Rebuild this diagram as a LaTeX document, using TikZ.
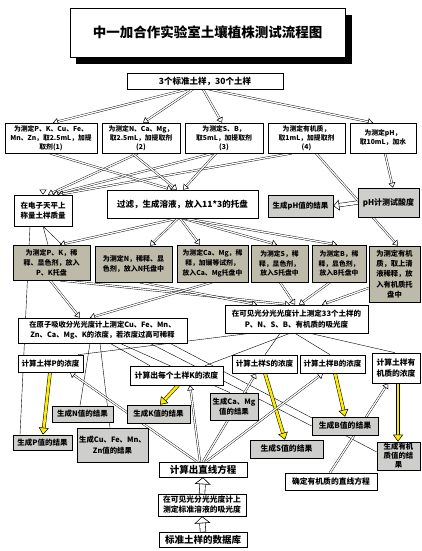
\documentclass[tikz,border=0pt]{standalone}
\usepackage{fontspec}
\setmainfont{Noto Sans CJK SC}
\usetikzlibrary{arrows.meta,backgrounds}
\definecolor{tanbox}{RGB}{190,186,170}
\definecolor{graybox}{RGB}{206,206,204}
\definecolor{yel}{RGB}{250,235,0}
\newcommand\fz[2]{\fontsize{#1pt}{#2pt}\selectfont\bfseries}
\newcommand\bx[7]{%
  \pgfmathsetmacro\bw{#4-#2}\pgfmathsetmacro\bh{#5-#3}%
  \node[#6, minimum width=\bw pt, minimum height=\bh pt] (#1) at ({(#2+#4)/2},{(#3+#5)/2}) {#7};}
\tikzset{
  box/.style={draw, line width=0.6pt, fill=white, inner sep=0.5pt, align=center},
  gbox/.style={box, fill=tanbox},
  rbox/.style={box, fill=graybox},
  hol/.style={double, double distance=1.3pt, line width=0.4pt,
    -{Triangle[open, length=5pt, width=7pt, line width=0.5pt]}},
  hol2/.style={double, double distance=3pt, line width=0.5pt,
    -{Triangle[open, length=6pt, width=11pt, line width=0.5pt]}},
  thinl/.style={line width=0.4pt},
  yarr/.style={draw=black, double=yel, double distance=2.6pt, line width=0.5pt,
    -{Triangle[length=7pt, width=10pt, fill=yel, line width=0.5pt]}},
  fat/.style={double, double distance=5pt, line width=0.6pt,
    -{Triangle[open, length=7pt, width=16pt, line width=0.6pt]}},
}
\begin{document}
\begin{tikzpicture}[x=1pt,y=-1pt]
\useasboundingbox (0,0) rectangle (421,551);
% title
\fill[black] (76,15) rectangle (352,64);
\bx{title}{70}{8}{345}{57}{box, font=\fz{13.5}{16}}{中一加合作实验室土壤植株测试流程图}
\bx{s}{127}{73}{283}{89}{box, font=\fz{8.5}{10}}{3个标准土样，30个土样}
% row 1
\bx{r1a}{5}{123}{97}{153}{box, font=\fz{6.8}{9}}{为测定P、K、Cu、Fe、\\Mn、Zn，取2.5mL，加提\\取剂(1)}
\bx{r1b}{102}{123}{180}{153}{box, font=\fz{6.8}{9}}{为测定N、Ca、Mg，\\取2.5mL，加提取剂\\(2)}
\bx{r1c}{185}{123}{263}{153}{box, font=\fz{6.8}{9}}{为测定S、B，\\取5mL，加提取剂\\(3)}
\bx{r1d}{268}{123}{345}{153}{box, font=\fz{6.8}{9}}{为测定有机质，\\取1mL，加提取剂\\(4)}
\bx{r1e}{350}{123}{416}{153}{box, font=\fz{6.8}{9}}{为测定pH，\\取10mL，加水}
% row 2
\bx{tp}{14}{195}{72}{226}{box, font=\fz{7.5}{10}}{在电子天平上\\称量土样质量}
\bx{gl}{107}{190}{258}{218}{box, font=\fz{8.5}{10}}{过滤，生成溶液，放入11*3的托盘}
\bx{pHres}{268}{195}{333}{217}{rbox, font=\fz{7.5}{9}}{生成pH值的结果}
\bx{pH}{358}{188}{419}{217}{rbox, font=\fz{8}{9}}{pH计测试酸度}
% row 3
\bx{r3a}{13}{245}{90}{280}{gbox, font=\fz{7}{9.8}}{为测定P、K，稀\\释、显色剂，放入\\P、K托盘}
\bx{r3b}{95}{246}{172}{282}{gbox, font=\fz{7}{9.8}}{为测定N，稀释、显\\色剂，放入N托盘中}
\bx{r3c}{177}{245}{248}{282}{gbox, font=\fz{6.8}{9.8}}{为测定Ca、Mg，稀\\释，加镧等试剂，\\放入Ca、Mg托盘中}
\bx{r3d}{251}{245}{308}{282}{gbox, font=\fz{6.8}{9.8}}{为测定S，稀\\释，显色剂，\\放入S托盘中}
\bx{r3e}{312}{245}{366}{282}{gbox, font=\fz{6.8}{9.8}}{为测定B，稀\\释，显色剂，\\放入B托盘中}
\bx{r3f}{369}{246}{420}{302}{gbox, font=\fz{7.3}{10.3}}{为测定有机\\质，取上清\\液稀释，放\\入有机质托\\盘中}
% row 4
\bx{aa}{18}{318}{187}{343}{box, font=\fz{7.3}{10}}{在原子吸收分光光度计上测定Cu、Fe、Mn、\\Zn、Ca、Mg、K的浓度，若浓度过高可稀释}
\bx{vis}{225}{305}{368}{333}{box, font=\fz{7.5}{10.5}}{在可见光分光光度计上测定33个土样的\\P、N、S、B、有机质的吸光度}
% row 5
\bx{Pc}{18}{355}{83}{372}{box, font=\fz{7.5}{9}}{计算土样P的浓度}
\bx{Kc}{130}{366}{223}{385}{box, font=\fz{7.8}{9}}{计算出每个土样K的浓度}
\bx{Sc}{232}{355}{297}{373}{box, font=\fz{7.5}{9}}{计算土样S的浓度}
\bx{Bc}{300}{355}{365}{373}{box, font=\fz{7.5}{9}}{计算土样B的浓度}
\bx{Oc}{372}{353}{420}{383}{box, font=\fz{7.8}{10.5}}{计算土样有\\机质的浓度}
% results
\bx{Nres}{52}{406}{113}{422}{rbox, font=\fz{7.5}{9}}{生成N值的结果}
\bx{Kres}{127}{405}{190}{423}{rbox, font=\fz{7.5}{9}}{生成K值的结果}
\bx{Pres}{13}{435}{72}{450}{rbox, font=\fz{7.5}{9}}{生成P值的结果}
\bx{CFres}{77}{428}{148}{462}{rbox, font=\fz{7.4}{10.5}}{生成Cu、Fe、Mn、\\Zn值的结果}
\bx{CMres}{210}{393}{258}{420}{rbox, font=\fz{7.4}{10.5}}{生成Ca、Mg\\值的结果}
\bx{Sres}{250}{440}{323}{458}{rbox, font=\fz{7.8}{9}}{生成S值的结果}
\bx{Bres}{312}{417}{378}{435}{rbox, font=\fz{7.8}{9}}{生成B值的结果}
\bx{Ores}{377}{442}{420}{470}{rbox, font=\fz{7.4}{9}}{生成有机\\质值的结\\果}
\bx{oeq}{285}{473}{377}{490}{box, font=\fz{7.8}{9}}{确定有机质的直线方程}
% bottom chain
\bx{eq}{159}{462}{247}{477}{box, font=\fz{9.5}{11}}{计算出直线方程}
\bx{meas}{158}{494}{246}{516}{box, font=\fz{7.8}{10}}{在可见光分光光度计上\\测定标准溶液的吸光度}
\bx{std}{159}{532}{247}{547}{box, font=\fz{9.5}{11}}{标准土样的数据库}
\begin{pgfonlayer}{background}
% top -> row1
\draw[hol] (187,0|-s.south) -- (53,0|-r1a.north);
\draw[hol] (193,0|-s.south) -- (143,0|-r1b.north);
\draw[hol] (203,0|-s.south) -- (222,0|-r1c.north);
\draw[hol] (209,0|-s.south) -- (373,0|-r1e.north);
% row1 -> balance
\draw[hol] (43,0|-r1a.south) -- (43,0|-tp.north);
\draw[hol] (138,0|-r1b.south) -- (48,0|-tp.north);
\draw[hol] (213,0|-r1c.south) -- (53,0|-tp.north);
\draw[hol] (292,0|-r1d.south) -- (58,0|-tp.north);
% row1 -> filter
\draw[hol] (50,0|-r1a.south) -- (172,0|-gl.north);
\draw[hol] (132,0|-r1b.south) -- (177,0|-gl.north);
\draw[hol] (216,0|-r1c.south) -- (183,0|-gl.north);
\draw[hol] (316,0|-r1d.south) -- (398,0|-r3f.north);
% pH
\draw[hol] (385,0|-r1e.south) -- (393,0|-pH.north);
\draw[hol2] (pH.west) -- (pHres.east);
% filter -> row3
\draw[hol] (178,0|-gl.south) -- (60,0|-r3a.north);
\draw[hol] (178,0|-gl.south) -- (150,0|-r3b.north);
\draw[hol] (180,0|-gl.south) -- (200,0|-r3c.north);
\draw[hol] (182,0|-gl.south) -- (277,0|-r3d.north);
\draw[hol] (184,0|-gl.south) -- (337,0|-r3e.north);
% balance -> row3
\draw[thinl] (43,0|-tp.south) -- (48,0|-r3a.north);
\draw[thinl] (43,0|-tp.south) -- (62,0|-r3a.north);
% row3 -> row4
\draw[hol] (60,0|-r3a.south) -- (290,0|-vis.north);
\draw[hol] (50,0|-r3a.south) -- (80,0|-aa.north);
\draw[hol] (140,0|-r3b.south) -- (257,0|-vis.north);
\draw[hol] (212,0|-r3c.south) -- (90,0|-aa.north);
\draw[hol] (280,0|-r3d.south) -- (295,0|-vis.north);
\draw[hol] (330,0|-r3e.south) -- (299,0|-vis.north);
\draw[hol] ([yshift=-14pt]r3f.west) -- (322,0|-vis.north);
% row4 -> row5 thin lines
\draw[thinl] (30,0|-tp.south) -- (20,0|-Pres.north);
\draw[thinl] (90,0|-aa.south) -- (80,0|-Nres.north);
\draw[thinl] (100,0|-aa.south) -- (110,0|-CFres.north);
\draw[thinl] (110,0|-aa.south) -- (150,0|-Kc.north);
\draw[thinl] (120,0|-aa.south) -- (230,0|-CMres.north);
\draw[thinl] (150,0|-aa.south) -- (Bres.west);
\draw[thinl] (170,0|-aa.south) -- ([yshift=4pt]Ores.west);
\draw[thinl] (250,0|-vis.south) -- (78,0|-Pc.north);
\draw[thinl] (290,0|-vis.south) -- (205,0|-Kc.north);
\draw[thinl] (280,0|-vis.south) -- (265,0|-Sc.north);
\draw[thinl] (295,0|-vis.south) -- (330,0|-Bc.north);
\draw[thinl] (310,0|-vis.south) -- (395,0|-Oc.north);
% yellow
\draw[yarr] (50,0|-Pc.south) -- (43,0|-Pres.north);
\draw[yarr] (178,0|-Kc.south) -- (160,0|-Kres.north);
\draw[yarr] (265,0|-Sc.south) -- (285,0|-Sres.north);
\draw[yarr] (335,0|-Bc.south) -- (345,0|-Bres.north);
\draw[yarr] (398,0|-Oc.south) -- (398,0|-Ores.north);
% equation -> calculations
\draw[hol] (197,0|-eq.north) -- (70,0|-Pc.south);
\draw[hol] (200,0|-eq.north) -- (190,0|-Kc.south);
\draw[hol] (203,0|-eq.north) -- (256,0|-Sc.south);
\draw[hol] (206,0|-eq.north) -- (323,0|-Bc.south);
\draw[hol] (330,0|-oeq.north) -- (388,0|-Oc.south);
% bottom chain
\draw[fat] (std.north) -- (meas.south);
\draw[fat] (meas.north) -- (eq.south);
\end{pgfonlayer}
\end{tikzpicture}
\end{document}
